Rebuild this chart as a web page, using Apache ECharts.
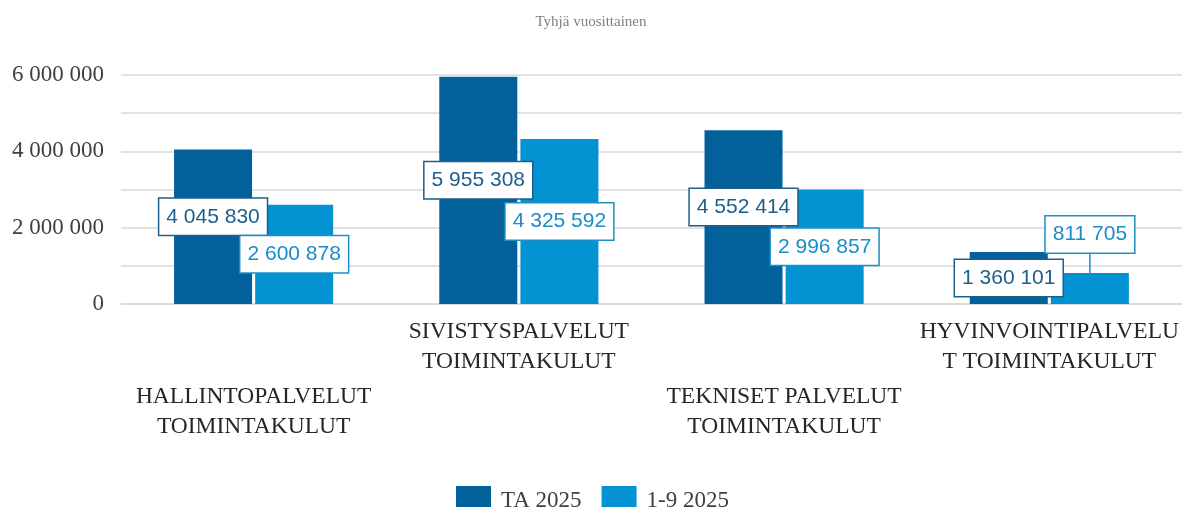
<!DOCTYPE html>
<html>
<head>
<meta charset="utf-8">
<script src="https://cdn.jsdelivr.net/npm/echarts@6/dist/echarts.min.js"></script>
<style>
  html, body { margin: 0; padding: 0; background: #fff; }
  #chart { width: 1182px; height: 507px; }
</style>
</head>
<body>
<div id="chart"></div>
<script>
var categories = [
  "HALLINTOPALVELUT\nTOIMINTAKULUT",
  "SIVISTYSPALVELUT\nTOIMINTAKULUT",
  "TEKNISET PALVELUT\nTOIMINTAKULUT",
  "HYVINVOINTIPALVELU\nT TOIMINTAKULUT"
];
var seriesNames = ["TA 2025", "1-9 2025"];
var ta2025 = [4045830, 5955308, 4552414, 1360101];
var tot2025 = [2600878, 4325592, 2996857, 811705];

var darkBlue = "#02609a";
var lightBlue = "#0393d3";

function fmt(v) {
  return String(v).replace(/\B(?=(\d{3})+(?!\d))/g, " ");
}

function boxLabel(color, textColor) {
  return {
    show: true,
    position: "inside",
    formatter: function (p) { return fmt(p.value); },
    fontFamily: "Liberation Sans",
    fontSize: 21,
    color: textColor,
    backgroundColor: "#fff",
    borderColor: color,
    borderWidth: 1.5,
    padding: [8, 7, 7, 7]
  };
}

var chart = echarts.init(document.getElementById("chart"));

var darkData = ta2025.map(function (v, i) {
  if (i === 3) return { value: v, label: { offset: [0, 0] } };
  return v;
});
var lightData = tot2025.map(function (v, i) {
  if (i === 3) {
    return {
      value: v,
      labelLine: { show: true, lineStyle: { color: "#1a8fc8", width: 1.5 } }
    };
  }
  return v;
});

var darkLabel = boxLabel("#1d5f8c", "#1d5f8c");
darkLabel.offset = [0, -10];

chart.setOption({
  animation: false,
  title: {
    text: "Tyhjä vuosittainen",
    left: "center",
    top: 10,
    textStyle: {
      fontFamily: "Liberation Serif",
      fontSize: 15,
      fontWeight: "normal",
      color: "#808080"
    }
  },
  legend: {
    data: seriesNames,
    left: 451,
    top: 481,
    itemWidth: 35,
    itemHeight: 30,
    itemGap: 20,
    icon: "rect",
    textStyle: {
      fontFamily: "Liberation Serif",
      fontSize: 23,
      color: "#404040",
      padding: [0, 0, 0, 5]
    }
  },
  grid: { left: 121, right: 0, top: 75, bottom: 203 },
  xAxis: {
    type: "category",
    data: categories,
    axisTick: { show: false },
    axisLine: { show: true, lineStyle: { color: "#d9d9d9", width: 1.5 } },
    axisLabel: {
      interval: 0,
      margin: 13,
      formatter: function (v, i) {
        var lines = v.split("\n").map(function (s) { return "{a|" + s + "}"; }).join("\n");
        return i % 2 === 0 ? "{g| }\n" + lines : lines;
      },
      rich: {
        a: {
          fontFamily: "Liberation Serif",
          fontSize: 23.5,
          lineHeight: 30,
          color: "#262626"
        },
        g: { fontSize: 10, lineHeight: 65 }
      }
    }
  },
  yAxis: {
    type: "value",
    min: 0,
    max: 6000000,
    interval: 1000000,
    axisLine: { show: false },
    axisTick: { show: false },
    splitLine: { lineStyle: { color: "#d9d9d9", width: 1.5 } },
    axisLabel: {
      margin: 17,
      fontFamily: "Liberation Serif",
      fontSize: 23,
      color: "#404040",
      formatter: function (v) { return v % 2000000 === 0 ? fmt(v) : ""; }
    }
  },
  series: [
    {
      name: seriesNames[0],
      type: "bar",
      data: darkData,
      barGap: "4%",
      barCategoryGap: "40%",
      itemStyle: { color: darkBlue },
      label: darkLabel
    },
    {
      name: seriesNames[1],
      type: "bar",
      data: lightData,
      itemStyle: { color: lightBlue },
      label: boxLabel("#1a8fc8", "#1a8cca"),
      labelLayout: function (p) {
        if (p.dataIndex === 3) {
          return { dy: -(p.rect.height / 2 + 19 + p.labelRect.height / 2) };
        }
      }
    }
  ]
});
</script>
</body>
</html>
